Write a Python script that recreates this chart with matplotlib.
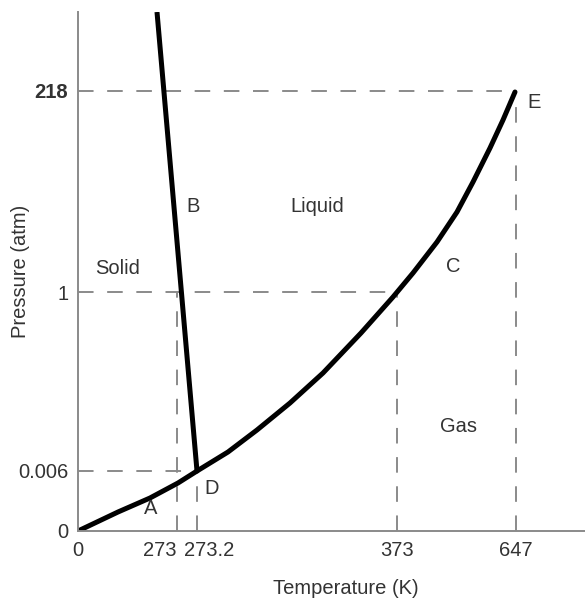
import matplotlib.pyplot as plt
from matplotlib.transforms import ScaledTranslation

# Schematic axis positions (the diagram is not to scale)
x_pos = [0, 99, 119, 319, 438]
x_labels = ['0', '273', '273.2', '373', '647']
y_pos = [0, 60, 239, 440]
y_labels = ['0', '0.006', '1', '218']

# Phase boundaries in schematic units
subl_x = [0, 40, 72, 100, 119]
subl_y = [0, 19, 33, 48, 60]
melt_x = [119, 79]
melt_y = [60, 519]
vap_x = [119, 150, 179, 212, 245, 283, 315, 335, 359, 379, 395, 412, 425, 437]
vap_y = [60, 79, 101, 128, 158, 198, 234, 258, 289, 319, 349, 383, 411, 439]

labels = ['Solid', 'B', 'Liquid', 'C', 'Gas', 'D', 'A', 'E']
label_x = [17, 108, 212, 368, 362, 126, 66, 449]
label_y = [263, 324, 324, 264, 104, 43, 23, 428]

plt.rcParams['font.family'] = ['Liberation Sans', 'DejaVu Sans']
fig = plt.figure(figsize=(5.85, 5.99), dpi=100)
ax = fig.add_axes([78 / 585, 68 / 599, 507 / 585, 519 / 599])

gray = '#8a8a8a'
txt = '#333333'
fs = 14.5
dash = dict(color=gray, lw=1.4, dashes=(8, 7))
# horizontal guides
ax.plot([0, x_pos[4]], [y_pos[3], y_pos[3]], **dash)
ax.plot([0, x_pos[3]], [y_pos[2], y_pos[2]], **dash)
ax.plot([0, x_pos[2]], [y_pos[1], y_pos[1]], **dash)
# vertical guides
ax.plot([x_pos[1], x_pos[1]], [0, y_pos[2]], **dash)
ax.plot([x_pos[2], x_pos[2]], [0, y_pos[1]], **dash)
ax.plot([x_pos[3], x_pos[3]], [0, y_pos[2]], **dash)
ax.plot([x_pos[4], x_pos[4]], [0, y_pos[3]], **dash)

ax.plot(subl_x, subl_y, color='black', lw=3.6, solid_capstyle='round')
ax.plot(melt_x, melt_y, color='black', lw=3.6, solid_capstyle='butt')
ax.plot(vap_x, vap_y, color='black', lw=3.6, solid_capstyle='round',
        solid_joinstyle='round')

for t, x, y in zip(labels, label_x, label_y):
    ax.text(x, y, t, fontsize=fs, color=txt, va='center', ha='left')

ax.set_xlim(0, 507)
ax.set_ylim(0, 519)
ax.set_xticks(x_pos)
ax.set_xticklabels(x_labels)
ax.set_yticks(y_pos)
ax.set_yticklabels(y_labels)
ax.tick_params(length=0, labelsize=fs, labelcolor=txt, pad=7)
ax.get_yticklabels()[3].set_fontweight('bold')

# nudge the two crowded labels apart
xt = ax.get_xticklabels()
xt[1].set_transform(xt[1].get_transform() + ScaledTranslation(-17 / 100, 0, fig.dpi_scale_trans))
xt[2].set_transform(xt[2].get_transform() + ScaledTranslation(12 / 100, 0, fig.dpi_scale_trans))

for s in ['top', 'right']:
    ax.spines[s].set_visible(False)
for s in ['left', 'bottom']:
    ax.spines[s].set_color(gray)
    ax.spines[s].set_linewidth(1.4)

ax.set_xlabel('Temperature (K)', fontsize=fs, color=txt)
ax.set_ylabel('Pressure (atm)', fontsize=fs, color=txt)
ax.xaxis.set_label_coords(0.529, -0.093)
ax.yaxis.label.set_va('center')
ax.yaxis.set_label_coords(-0.114, 0.5)

plt.savefig('out.png', dpi=100)
